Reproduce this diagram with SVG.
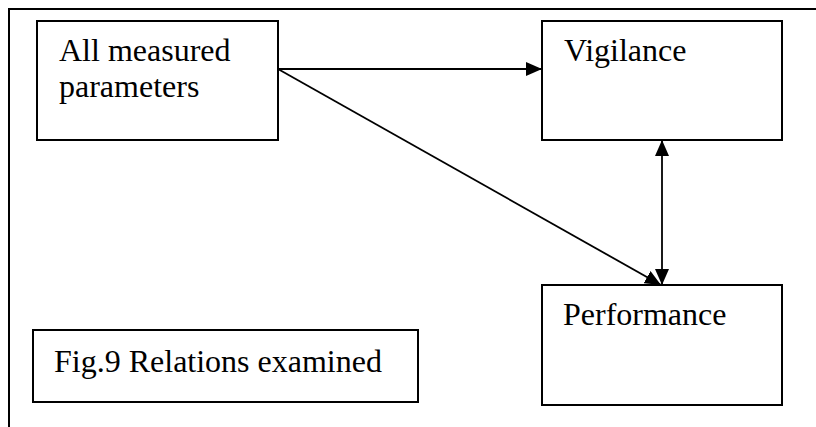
<svg xmlns="http://www.w3.org/2000/svg" width="816" height="427" viewBox="0 0 816 427">
<defs>
<marker id="ah" viewBox="0 0 16 14" refX="16" refY="7" markerWidth="16" markerHeight="14" markerUnits="userSpaceOnUse" orient="auto-start-reverse">
<path d="M0,0 L16,7 L0,14 Z" fill="#000"/>
</marker>
<style>
.box{fill:#fff;stroke:#000;stroke-width:2}
.t{font-family:"Liberation Serif","Times New Roman",serif;font-size:32px;fill:#000}
.c{stroke:#000;stroke-width:1.8;fill:none}
</style>
</defs>
<rect width="816" height="427" fill="#fff"/>
<path d="M9,430 L9,9 L820,9" fill="none" stroke="#000" stroke-width="2"/>
<g id="n1"><rect class="box" x="37" y="21" width="241" height="119"/><text class="t" x="59" y="61">All measured</text><text class="t" x="59" y="97">parameters</text></g>
<g id="n2"><rect class="box" x="542" y="21" width="240" height="119"/><text class="t" x="564" y="61">Vigilance</text></g>
<g id="n3"><rect class="box" x="542" y="285" width="240" height="120"/><text class="t" x="563" y="325">Performance</text></g>
<g id="n4"><rect class="box" x="33" y="330" width="385" height="72"/><text class="t" x="54" y="372">Fig.9 Relations examined</text></g>
<g id="connectors">
<line class="c" x1="278" y1="69" x2="542" y2="69" marker-end="url(#ah)"/>
<line class="c" x1="278" y1="69" x2="661" y2="285" marker-end="url(#ah)"/>
<line class="c" x1="662" y1="140" x2="662" y2="285" stroke-width="2.5" marker-start="url(#ah)" marker-end="url(#ah)"/>
</g>
</svg>
